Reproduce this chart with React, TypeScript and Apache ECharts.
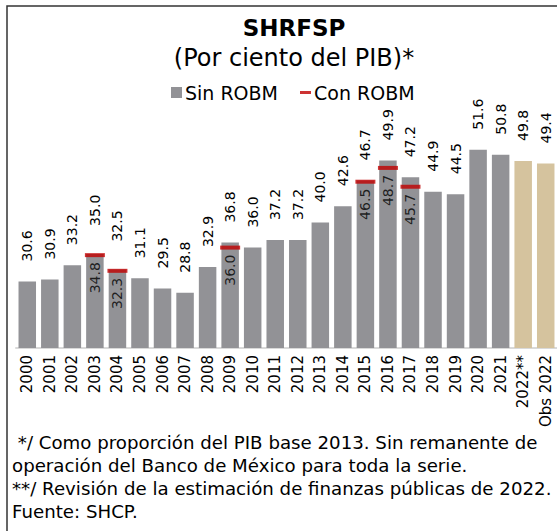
import React, { useEffect, useRef } from "react";
import * as echarts from "echarts";

const categories = [
  "2000", "2001", "2002", "2003", "2004", "2005", "2006", "2007", "2008", "2009",
  "2010", "2011", "2012", "2013", "2014", "2015", "2016", "2017", "2018", "2019",
  "2020", "2021", "2022**", "Obs 2022",
];
const sinROBM = [
  30.6, 30.9, 33.2, 35.0, 32.5, 31.1, 29.5, 28.8, 32.9, 36.8,
  36.0, 37.2, 37.2, 40.0, 42.6, 46.7, 49.9, 47.2, 44.9, 44.5,
  51.6, 50.8, 49.8, 49.4,
];
const conROBM: (number | null)[] = [
  null, null, null, 34.8, 32.3, null, null, null, null, 36.0,
  null, null, null, null, null, 46.5, 48.7, 45.7, null, null,
  null, null, null, null,
];
const estimateCategories = ["2022**", "Obs 2022"];
const raisedLabelCategories = ["2003", "2004"];

const title = "SHRFSP";
const subtitle = "(Por ciento del PIB)*";
const footnotes = [
  " */ Como proporción del PIB base 2013. Sin remanente de",
  "operación del Banco de México para toda la serie.",
  "**/ Revisión de la estimación de finanzas públicas de 2022.",
  "Fuente: SHCP.",
];

const FONT = "DejaVu Sans";
const LABEL_SIZE = 14;
const GREY = "#929296";
const BEIGE = "#D5C39E";
const RED = "#C00000";

export default function App() {
  const ref = useRef<HTMLDivElement>(null);
  useEffect(() => {
    document.body.style.margin = "0";
    if (!ref.current) return;
    const chart = echarts.init(ref.current, null, { renderer: "svg" });

    const barData = sinROBM.map((v, i) =>
      estimateCategories.includes(categories[i])
        ? { value: v, itemStyle: { color: BEIGE } }
        : v
    );

    const footGraphics = footnotes.map((t, i) => ({
      type: "text",
      x: 12,
      y: 442 + i * 23.3,
      silent: true,
      style: {
        text: t,
        font: `18.2px '${FONT}'`,
        fill: "#000",
        textVerticalAlign: "middle",
      },
    }));

    const baseGraphics: any[] = [
      {
        type: "rect",
        shape: { x: 7, y: 6, width: 700, height: 700 },
        style: { fill: "none", stroke: "#333", lineWidth: 1.5 },
        silent: true,
      },
      {
        type: "text",
        x: 294,
        y: 28,
        silent: true,
        style: {
          text: title,
          font: `bold 23px '${FONT}'`,
          fill: "#000",
          textAlign: "center",
          textVerticalAlign: "middle",
        },
      },
      {
        type: "text",
        x: 294,
        y: 58,
        silent: true,
        style: {
          text: subtitle,
          font: `24px '${FONT}'`,
          fill: "#000",
          textAlign: "center",
          textVerticalAlign: "middle",
        },
      },
      ...footGraphics,
    ];

    chart.setOption({
      animation: false,
      legend: {
        top: 78,
        left: 166,
        itemGap: 22,
        itemWidth: 11,
        itemHeight: 11,
        textStyle: { fontFamily: FONT, fontSize: 19, color: "#000", padding: [0, 0, 0, -2] },
        data: [
          { name: "Sin ROBM", icon: "rect" },
          { name: "Con ROBM", icon: "path://M0,0h11v3h-11z" },
        ],
      },
      grid: { left: 16, width: 542, top: 97, height: 251 },
      xAxis: {
        type: "category",
        data: categories,
        axisLine: { lineStyle: { color: "#D9D9D9", width: 2 } },
        axisTick: { show: false },
        axisLabel: {
          rotate: 90,
          interval: 0,
          margin: 7,
          fontFamily: FONT,
          fontSize: 15,
          color: "#000",
        },
      },
      yAxis: {
        type: "value",
        min: 20,
        max: 60,
        show: false,
        splitLine: { show: false },
      },
      series: [
        {
          name: "Sin ROBM",
          type: "bar",
          data: barData,
          barWidth: 17.5,
          itemStyle: { color: GREY },
        },
        {
          name: "Con ROBM",
          type: "scatter",
          data: conROBM.map((v) => (v == null ? "-" : v)),
          symbol: "rect",
          symbolSize: [20, 4],
          itemStyle: { color: RED },
          z: 5,
          label: {
            show: true,
            position: "bottom",
            rotate: 90,
            align: "right",
            verticalAlign: "middle",
            distance: 5,
            fontFamily: FONT,
            fontSize: LABEL_SIZE,
            color: "#000",
            formatter: (p: any) => Number(p.value).toFixed(1),
          },
        },
      ],
      graphic: baseGraphics,
    });

    // value labels above the bars, placed through the chart's own scales
    const topLabels = sinROBM.map((v, i) => {
      const pt = chart.convertToPixel({ gridIndex: 0 }, [i, v]) as number[];
      const gap = raisedLabelCategories.includes(categories[i]) ? 28 : 20;
      return {
        type: "text",
        x: pt[0],
        y: pt[1] - gap,
        rotation: Math.PI / 2,
        silent: true,
        style: {
          text: v.toFixed(1),
          font: `${LABEL_SIZE}px '${FONT}'`,
          fill: "#000",
          textAlign: "left",
          textVerticalAlign: "middle",
        },
      };
    });
    chart.setOption({ graphic: [...baseGraphics, ...topLabels] });

    return () => chart.dispose();
  }, []);
  return <div ref={ref} style={{ width: 557, height: 531 }} />;
}
